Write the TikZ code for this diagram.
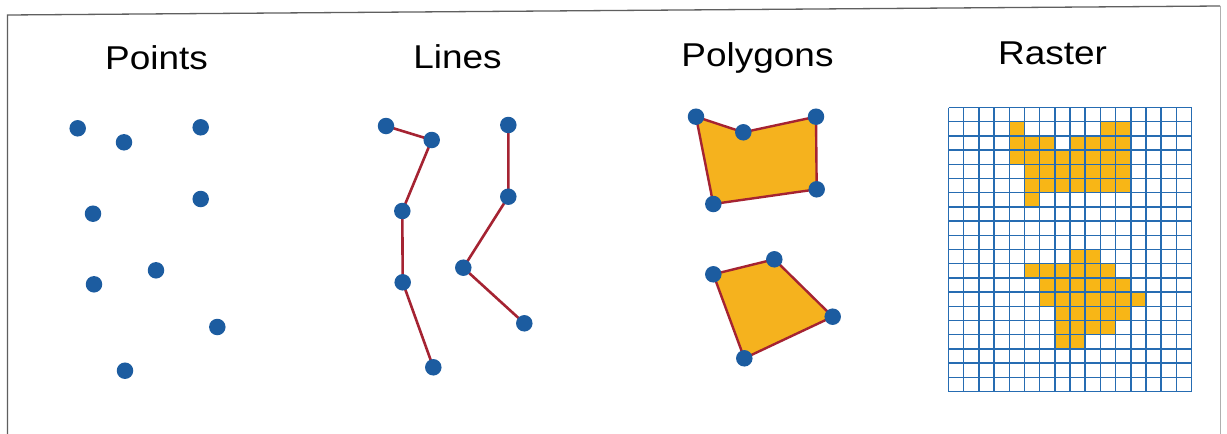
\documentclass[tikz,border=0pt]{standalone}
\usepackage{fontspec}
\setmainfont{Liberation Sans}
\definecolor{dotblue}{RGB}{28,92,160}
\definecolor{linered}{RGB}{165,35,50}
\definecolor{polyfill}{RGB}{245,178,30}
\definecolor{rasterorange}{RGB}{248,182,22}
\definecolor{gridblue}{RGB}{38,108,178}
\definecolor{framegray}{RGB}{95,95,95}
\pgfdeclarelayer{backdrop}
\pgfdeclarelayer{bg}
\pgfsetlayers{backdrop,bg,main}
\tikzset{
  dot/.style={circle, fill=dotblue, inner sep=0pt, minimum size=16.5pt},
  seg/.style={draw=linered, line width=2.6pt, line join=round},
  poly/.style={fill=polyfill, draw=linered, line width=2.4pt, line join=round},
  title/.style={anchor=base, font=\fontsize{33}{36}\selectfont, xscale=1.12, inner sep=0pt},
  cell/.style={fill=rasterorange},
  gridline/.style={draw=gridblue, line width=1.5pt},
  frameline/.style={draw=framegray, line width=1.3pt}
}
\begin{document}
\begin{tikzpicture}[x=1pt, y=-1pt]
\begin{pgfonlayer}{backdrop}
  \fill[white] (0,0) rectangle (1227,434);
\end{pgfonlayer}
\useasboundingbox (0,0) rectangle (1227,434);
% frame
\coordinate (fbl) at (7.5,434);
\coordinate (ftl) at (7.5,15);
\coordinate (ftr) at (1220,6);
\coordinate (fbr) at (1220,434);
\draw[frameline] (fbl) -- (ftl) -- (ftr);
\draw[draw=framegray!50, line width=1pt] (ftr) -- (fbr);
% titles
\node[title] (tpoints) at (156.5,69.3) {Points};
\node[title] (tlines) at (457.5,68) {Lines};
\node[title] (tpolys) at (757.5,66) {Polygons};
\node[title] (traster) at (1052.5,64) {Raster};
% points
\node[dot] (p1) at (77.7,128.3) {};
\node[dot] (p2) at (124,142.3) {};
\node[dot] (p3) at (200.7,127.3) {};
\node[dot] (p4) at (200.7,199) {};
\node[dot] (p5) at (93,213.7) {};
\node[dot] (p6) at (156,270.3) {};
\node[dot] (p7) at (94,284.3) {};
\node[dot] (p8) at (217.3,327) {};
\node[dot] (p9) at (125,370.7) {};
% lines
\node[dot] (la1) at (386,126) {};
\node[dot] (la2) at (431.7,140) {};
\node[dot] (la3) at (402.3,211) {};
\node[dot] (la4) at (402.7,282.3) {};
\node[dot] (la5) at (433.3,367.3) {};
\node[dot] (lb1) at (508.3,125) {};
\node[dot] (lb2) at (508.3,196.7) {};
\node[dot] (lb3) at (463.3,267.7) {};
\node[dot] (lb4) at (524.3,323.3) {};
% polygons
\node[dot] (qa1) at (696,116.7) {};
\node[dot] (qa2) at (743.3,132.3) {};
\node[dot] (qa3) at (816,116.7) {};
\node[dot] (qa4) at (816.7,189.3) {};
\node[dot] (qa5) at (713.3,204) {};
\node[dot] (qb1) at (713.3,274.3) {};
\node[dot] (qb2) at (774.3,259.3) {};
\node[dot] (qb3) at (832.7,316.7) {};
\node[dot] (qb4) at (744.3,358.3) {};
\begin{pgfonlayer}{bg}
  \draw[seg] (la1.center) -- (la2.center) -- (la3.center) -- (la4.center) -- (la5.center);
  \draw[seg] (lb1.center) -- (lb2.center) -- (lb3.center) -- (lb4.center);
  \draw[poly] (qa1.center) -- (qa2.center) -- (qa3.center) -- (qa4.center) -- (qa5.center) -- cycle;
  \draw[poly] (qb1.center) -- (qb2.center) -- (qb3.center) -- (qb4.center) -- cycle;
\end{pgfonlayer}
% raster
\foreach \r/\a/\b in {1/4/4, 1/10/11, 2/4/6, 2/8/11, 3/4/11, 4/5/11, 5/5/11, 6/5/5,
                      10/8/9, 11/5/10, 12/6/11, 13/6/12, 14/7/11, 15/7/10, 16/7/8}
  \fill[cell] ({948.5+\a*15.1875},{107.5+\r*14.2}) rectangle ({948.5+(\b+1)*15.1875},{107.5+(\r+1)*14.2});
\foreach \i in {0,...,16}
  \draw[gridline] ({948.5+\i*15.1875},107.5) -- ({948.5+\i*15.1875},391.5);
\foreach \j in {0,...,20}
  \draw[gridline] (948.5,{107.5+\j*14.2}) -- (1191.5,{107.5+\j*14.2});
\end{tikzpicture}
\end{document}
